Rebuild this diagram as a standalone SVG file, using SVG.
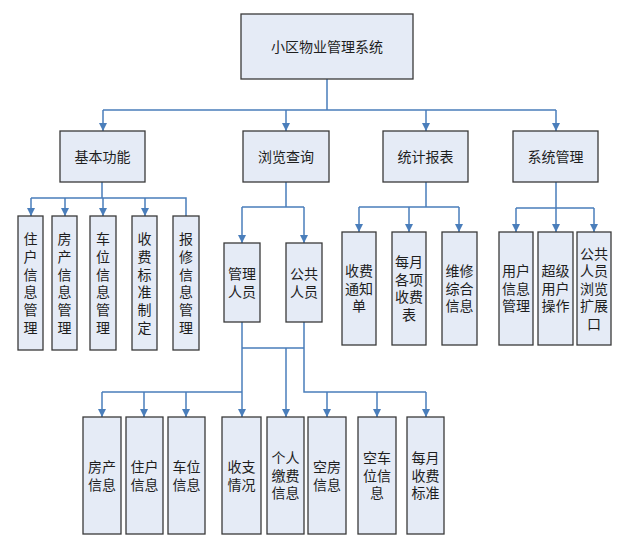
<svg xmlns="http://www.w3.org/2000/svg" width="639" height="552" viewBox="0 0 639 552">
<defs>
<marker id="arr" viewBox="0 0 8 8" refX="8" refY="4" markerWidth="8" markerHeight="8" markerUnits="userSpaceOnUse" orient="auto">
<path d="M0,0 L8,4 L0,8 Z" fill="#4A7EBB"/>
</marker>
<style>
.box{fill:#E5EBF6;stroke:#3a3a3a;stroke-width:1.3}
.t{font-family:"Noto Sans CJK SC","Noto Sans",sans-serif;font-size:14px;fill:#1e1e1e;text-anchor:middle}
.v{writing-mode:vertical-rl;letter-spacing:3.8px}
.c{fill:none;stroke:#4A7EBB;stroke-width:1.5}
</style>
</defs>
<rect width="639" height="552" fill="#ffffff"/>
<g id="connectors">
<path class="c" d="M327,79 V110 M103,110 H556"/>
<path class="c" d="M103,110 V131" marker-end="url(#arr)"/>
<path class="c" d="M286,110 V131" marker-end="url(#arr)"/>
<path class="c" d="M426,110 V131" marker-end="url(#arr)"/>
<path class="c" d="M556,110 V131" marker-end="url(#arr)"/>
<path class="c" d="M102,182 V198 M31,198 H186 V216"/>
<path class="c" d="M31,198 V216" marker-end="url(#arr)"/>
<path class="c" d="M65,198 V216" marker-end="url(#arr)"/>
<path class="c" d="M103,198 V216" marker-end="url(#arr)"/>
<path class="c" d="M145,198 V216" marker-end="url(#arr)"/>
<path class="c" d="M286,182 V207 M242,207 H304"/>
<path class="c" d="M242,207 V243" marker-end="url(#arr)"/>
<path class="c" d="M304,207 V243" marker-end="url(#arr)"/>
<path class="c" d="M426,182 V207 M359,207 H459"/>
<path class="c" d="M359,207 V232" marker-end="url(#arr)"/>
<path class="c" d="M409,207 V232" marker-end="url(#arr)"/>
<path class="c" d="M459,207 V232" marker-end="url(#arr)"/>
<path class="c" d="M556,182 V208 M516,208 H594"/>
<path class="c" d="M516,208 V232" marker-end="url(#arr)"/>
<path class="c" d="M556,208 V232" marker-end="url(#arr)"/>
<path class="c" d="M594,208 V232" marker-end="url(#arr)"/>
<path class="c" d="M242,348 H304 M304,322 V392 H426 M102,392 H242"/>
<path class="c" d="M242,322 V417" marker-end="url(#arr)"/>
<path class="c" d="M286,348 V417" marker-end="url(#arr)"/>
<path class="c" d="M102,392 V417" marker-end="url(#arr)"/>
<path class="c" d="M144,392 V417" marker-end="url(#arr)"/>
<path class="c" d="M186,392 V417" marker-end="url(#arr)"/>
<path class="c" d="M327,392 V417" marker-end="url(#arr)"/>
<path class="c" d="M377,392 V417" marker-end="url(#arr)"/>
<path class="c" d="M426,392 V417" marker-end="url(#arr)"/>
</g>
<g id="root"><rect class="box" x="241" y="14" width="172" height="65"/><text class="t" x="327" y="52">小区物业管理系统</text></g>
<g id="n-jbgn"><rect class="box" x="60" y="131" width="85" height="51"/><text class="t" x="102.5" y="162">基本功能</text></g>
<g id="n-llcx"><rect class="box" x="243" y="131" width="86" height="51"/><text class="t" x="286" y="162">浏览查询</text></g>
<g id="n-tjbb"><rect class="box" x="383" y="131" width="85" height="51"/><text class="t" x="425.5" y="162">统计报表</text></g>
<g id="n-xtgl"><rect class="box" x="513" y="131" width="85" height="51"/><text class="t" x="555.5" y="162">系统管理</text></g>
<g id="n-zhxx"><rect class="box" x="18" y="216" width="25" height="134"/><text class="t v" x="30.5" y="285">住户信息管理</text></g>
<g id="n-fcxx"><rect class="box" x="52" y="216" width="25" height="134"/><text class="t v" x="64.5" y="285">房产信息管理</text></g>
<g id="n-cwxx"><rect class="box" x="90" y="216" width="26" height="134"/><text class="t v" x="103" y="285">车位信息管理</text></g>
<g id="n-sfbz"><rect class="box" x="132" y="216" width="25" height="134"/><text class="t v" x="144.5" y="285">收费标准制定</text></g>
<g id="n-bxxx"><rect class="box" x="173" y="216" width="26" height="134"/><text class="t v" x="186" y="285">报修信息管理</text></g>
<g id="n-glry"><rect class="box" x="224" y="243" width="36" height="79"/><text class="t" x="242"><tspan x="242" y="279">管理</tspan><tspan x="242" y="297">人员</tspan></text></g>
<g id="n-ggry"><rect class="box" x="286" y="243" width="36" height="79"/><text class="t" x="304"><tspan x="304" y="279">公共</tspan><tspan x="304" y="297">人员</tspan></text></g>
<g id="n-sftz"><rect class="box" x="342" y="232" width="34" height="113"/><text class="t" x="359"><tspan x="359" y="276">收费</tspan><tspan x="359" y="293.5">通知</tspan><tspan x="359" y="311">单</tspan></text></g>
<g id="n-mygx"><rect class="box" x="392" y="232" width="34" height="113"/><text class="t" x="409"><tspan x="409" y="267">每月</tspan><tspan x="409" y="284.5">各项</tspan><tspan x="409" y="302">收费</tspan><tspan x="409" y="319.5">表</tspan></text></g>
<g id="n-wxzh"><rect class="box" x="442" y="232" width="35" height="113"/><text class="t" x="459.5"><tspan x="459.5" y="276">维修</tspan><tspan x="459.5" y="293.5">综合</tspan><tspan x="459.5" y="311">信息</tspan></text></g>
<g id="n-yhxx"><rect class="box" x="499" y="232" width="34" height="113"/><text class="t" x="516"><tspan x="516" y="276">用户</tspan><tspan x="516" y="293.5">信息</tspan><tspan x="516" y="311">管理</tspan></text></g>
<g id="n-cjyh"><rect class="box" x="538" y="232" width="35" height="113"/><text class="t" x="555.5"><tspan x="555.5" y="276">超级</tspan><tspan x="555.5" y="293.5">用户</tspan><tspan x="555.5" y="311">操作</tspan></text></g>
<g id="n-ggll"><rect class="box" x="577" y="232" width="34" height="113"/><text class="t" x="594"><tspan x="594" y="258.5">公共</tspan><tspan x="594" y="276">人员</tspan><tspan x="594" y="293.5">浏览</tspan><tspan x="594" y="311">扩展</tspan><tspan x="594" y="328.5">口</tspan></text></g>
<g id="b-fcxx"><rect class="box" x="83" y="417" width="38" height="117"/><text class="t" x="102"><tspan x="102" y="472">房产</tspan><tspan x="102" y="490">信息</tspan></text></g>
<g id="b-zhxx"><rect class="box" x="126" y="417" width="37" height="117"/><text class="t" x="144.5"><tspan x="144.5" y="472">住户</tspan><tspan x="144.5" y="490">信息</tspan></text></g>
<g id="b-cwxx"><rect class="box" x="168" y="417" width="37" height="117"/><text class="t" x="186.5"><tspan x="186.5" y="472">车位</tspan><tspan x="186.5" y="490">信息</tspan></text></g>
<g id="b-szqk"><rect class="box" x="222" y="417" width="39" height="117"/><text class="t" x="241.5"><tspan x="241.5" y="472">收支</tspan><tspan x="241.5" y="490">情况</tspan></text></g>
<g id="b-grjf"><rect class="box" x="267" y="417" width="37" height="117"/><text class="t" x="285.5"><tspan x="285.5" y="463">个人</tspan><tspan x="285.5" y="481">缴费</tspan><tspan x="285.5" y="498">信息</tspan></text></g>
<g id="b-kfxx"><rect class="box" x="308" y="417" width="38" height="117"/><text class="t" x="327"><tspan x="327" y="472">空房</tspan><tspan x="327" y="490">信息</tspan></text></g>
<g id="b-kcw"><rect class="box" x="358" y="417" width="38" height="117"/><text class="t" x="377"><tspan x="377" y="463">空车</tspan><tspan x="377" y="481">位信</tspan><tspan x="377" y="498">息</tspan></text></g>
<g id="b-mysf"><rect class="box" x="407" y="417" width="37" height="117"/><text class="t" x="425.5"><tspan x="425.5" y="463">每月</tspan><tspan x="425.5" y="481">收费</tspan><tspan x="425.5" y="498">标准</tspan></text></g>
</svg>
